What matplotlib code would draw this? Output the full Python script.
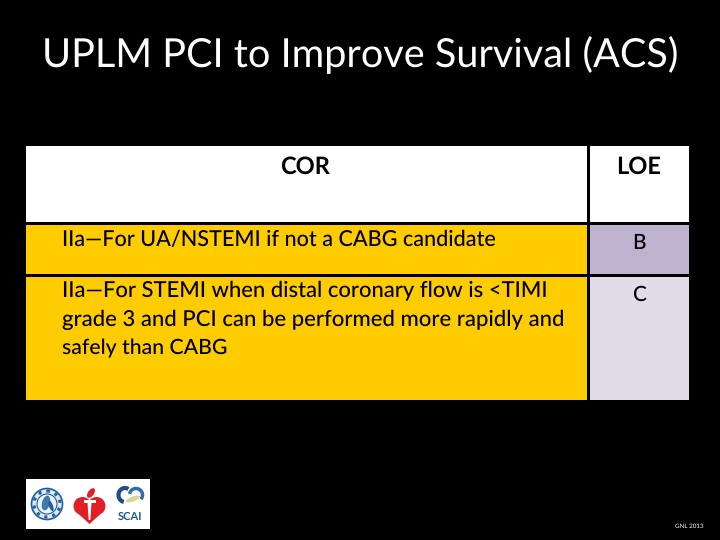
# -*- coding: utf-8 -*-
import matplotlib
matplotlib.use('Agg')
import matplotlib.pyplot as pl
from matplotlib.patches import Rectangle, Circle, Polygon, Ellipse, Arc

pl.rcParams['text.hinting'] = 'no_hinting'

title_txt = 'UPLM PCI to Improve Survival (ACS)'
col_labels = ['COR', 'LOE']
cor_lines = [['IIa\u2014For UA/NSTEMI if not a CABG candidate'],
             ['IIa\u2014For STEMI when distal coronary flow is <TIMI',
              'grade 3 and PCI can be performed more rapidly and',
              'safely than CABG']]
loe_vals = ['B', 'C']
footer = 'GNL 2013'
logo_label = 'SCAI'

# table layout, in pixels from the top left of the slide
col_edges = [(26, 587), (590, 689)]
row_edges = [(146, 222), (225, 274), (277, 400)]
cor_colour = '#ffcc00'
loe_colours = ['#bfb1d0', '#e1dcea']
font = 'Lato'

fig = pl.figure(figsize=(7.2, 5.4), dpi=100, facecolor='k')
ax = fig.add_axes([0, 0, 1, 1])
ax.set_xlim(0, 720)
ax.set_ylim(540, 0)
ax.axis('off')


def cell(col, row, colour):
    x0, x1 = col_edges[col]
    y0, y1 = row_edges[row]
    ax.add_patch(Rectangle((x0, y0), x1 - x0, y1 - y0, facecolor=colour, edgecolor='none'))


ax.text(360, 65.7, title_txt, ha='center', va='baseline', color='w', fontsize=28.5, family=font)

# header row
cell(0, 0, 'w')
cell(1, 0, 'w')
ax.text(305.5, 174, col_labels[0], ha='center', va='baseline', color='k', fontsize=17, family=font, fontweight='bold')
ax.text(639, 174, col_labels[1], ha='center', va='baseline', color='k', fontsize=17, family=font, fontweight='bold')

# body rows
text_y = [[245.7], [296.7, 325.7, 354.7]]
text_size = [[15.6], [15.85, 15.9, 15.3]]
loe_y = [249.3, 301]
for i in range(len(loe_vals)):
    cell(0, i + 1, cor_colour)
    cell(1, i + 1, loe_colours[i])
    for line, y, size in zip(cor_lines[i], text_y[i], text_size[i]):
        ax.text(62, y, line, ha='left', va='baseline', color='k', fontsize=size, family=font, fontweight='medium')
    ax.text(639, loe_y[i], loe_vals[i], ha='center', va='baseline', color='k', fontsize=15, family=font, fontweight='medium')

# society logos
ax.add_patch(Rectangle((26, 479), 124, 50, facecolor='w', edgecolor='none'))

# seal
ax.add_patch(Circle((47, 504), 15.5, facecolor='#dfe9f3', edgecolor='#1f5fa0', linewidth=1.2))
ax.add_patch(Circle((47, 504), 13, facecolor='none', edgecolor='#1f5fa0', linewidth=2.2, linestyle=':'))
ax.add_patch(Circle((47, 504), 10, facecolor='#eef3f8', edgecolor='#1f5fa0', linewidth=0.8))
ax.add_patch(Ellipse((46, 503), 8, 15, angle=15, facecolor='#3f78b0', edgecolor='none'))
ax.add_patch(Ellipse((51, 506), 4, 11, angle=-20, facecolor='#1f5fa0', edgecolor='none'))

# heart and torch
ax.add_patch(Circle((82.5, 506), 9, facecolor='#e01f26', edgecolor='none'))
ax.add_patch(Circle((96.5, 506), 9, facecolor='#e01f26', edgecolor='none'))
ax.add_patch(Polygon([(74.2, 510), (104.8, 510), (89.5, 524)], facecolor='#e01f26', edgecolor='none'))
ax.add_patch(Polygon([(87.5, 503), (91.5, 503), (90.3, 520), (88.7, 520)], facecolor='w', edgecolor='none'))
ax.add_patch(Rectangle((83.5, 499.5), 12, 3, facecolor='w', edgecolor='none'))
ax.add_patch(Ellipse((91, 493), 6, 11, angle=35, facecolor='#e01f26', edgecolor='none'))

# scai mark
ax.add_patch(Arc((125, 495), 13, 14, theta1=100, theta2=300, color='#1f4e85', linewidth=3))
ax.add_patch(Arc((136, 495), 13, 13, theta1=190, theta2=400, color='#2f6ea5', linewidth=2.5))
ax.add_patch(Ellipse((133, 499), 15, 5, angle=-20, facecolor='#d8d59a', edgecolor='none'))
ax.text(130.5, 516.5, logo_label, ha='center', va='center', color='#1f5a90', fontsize=8, fontweight='bold', family=font)

ax.text(689, 526.5, footer, ha='center', va='center', color='w', fontsize=4.5, family=font)

pl.savefig('out.png', dpi=100, facecolor='k')
